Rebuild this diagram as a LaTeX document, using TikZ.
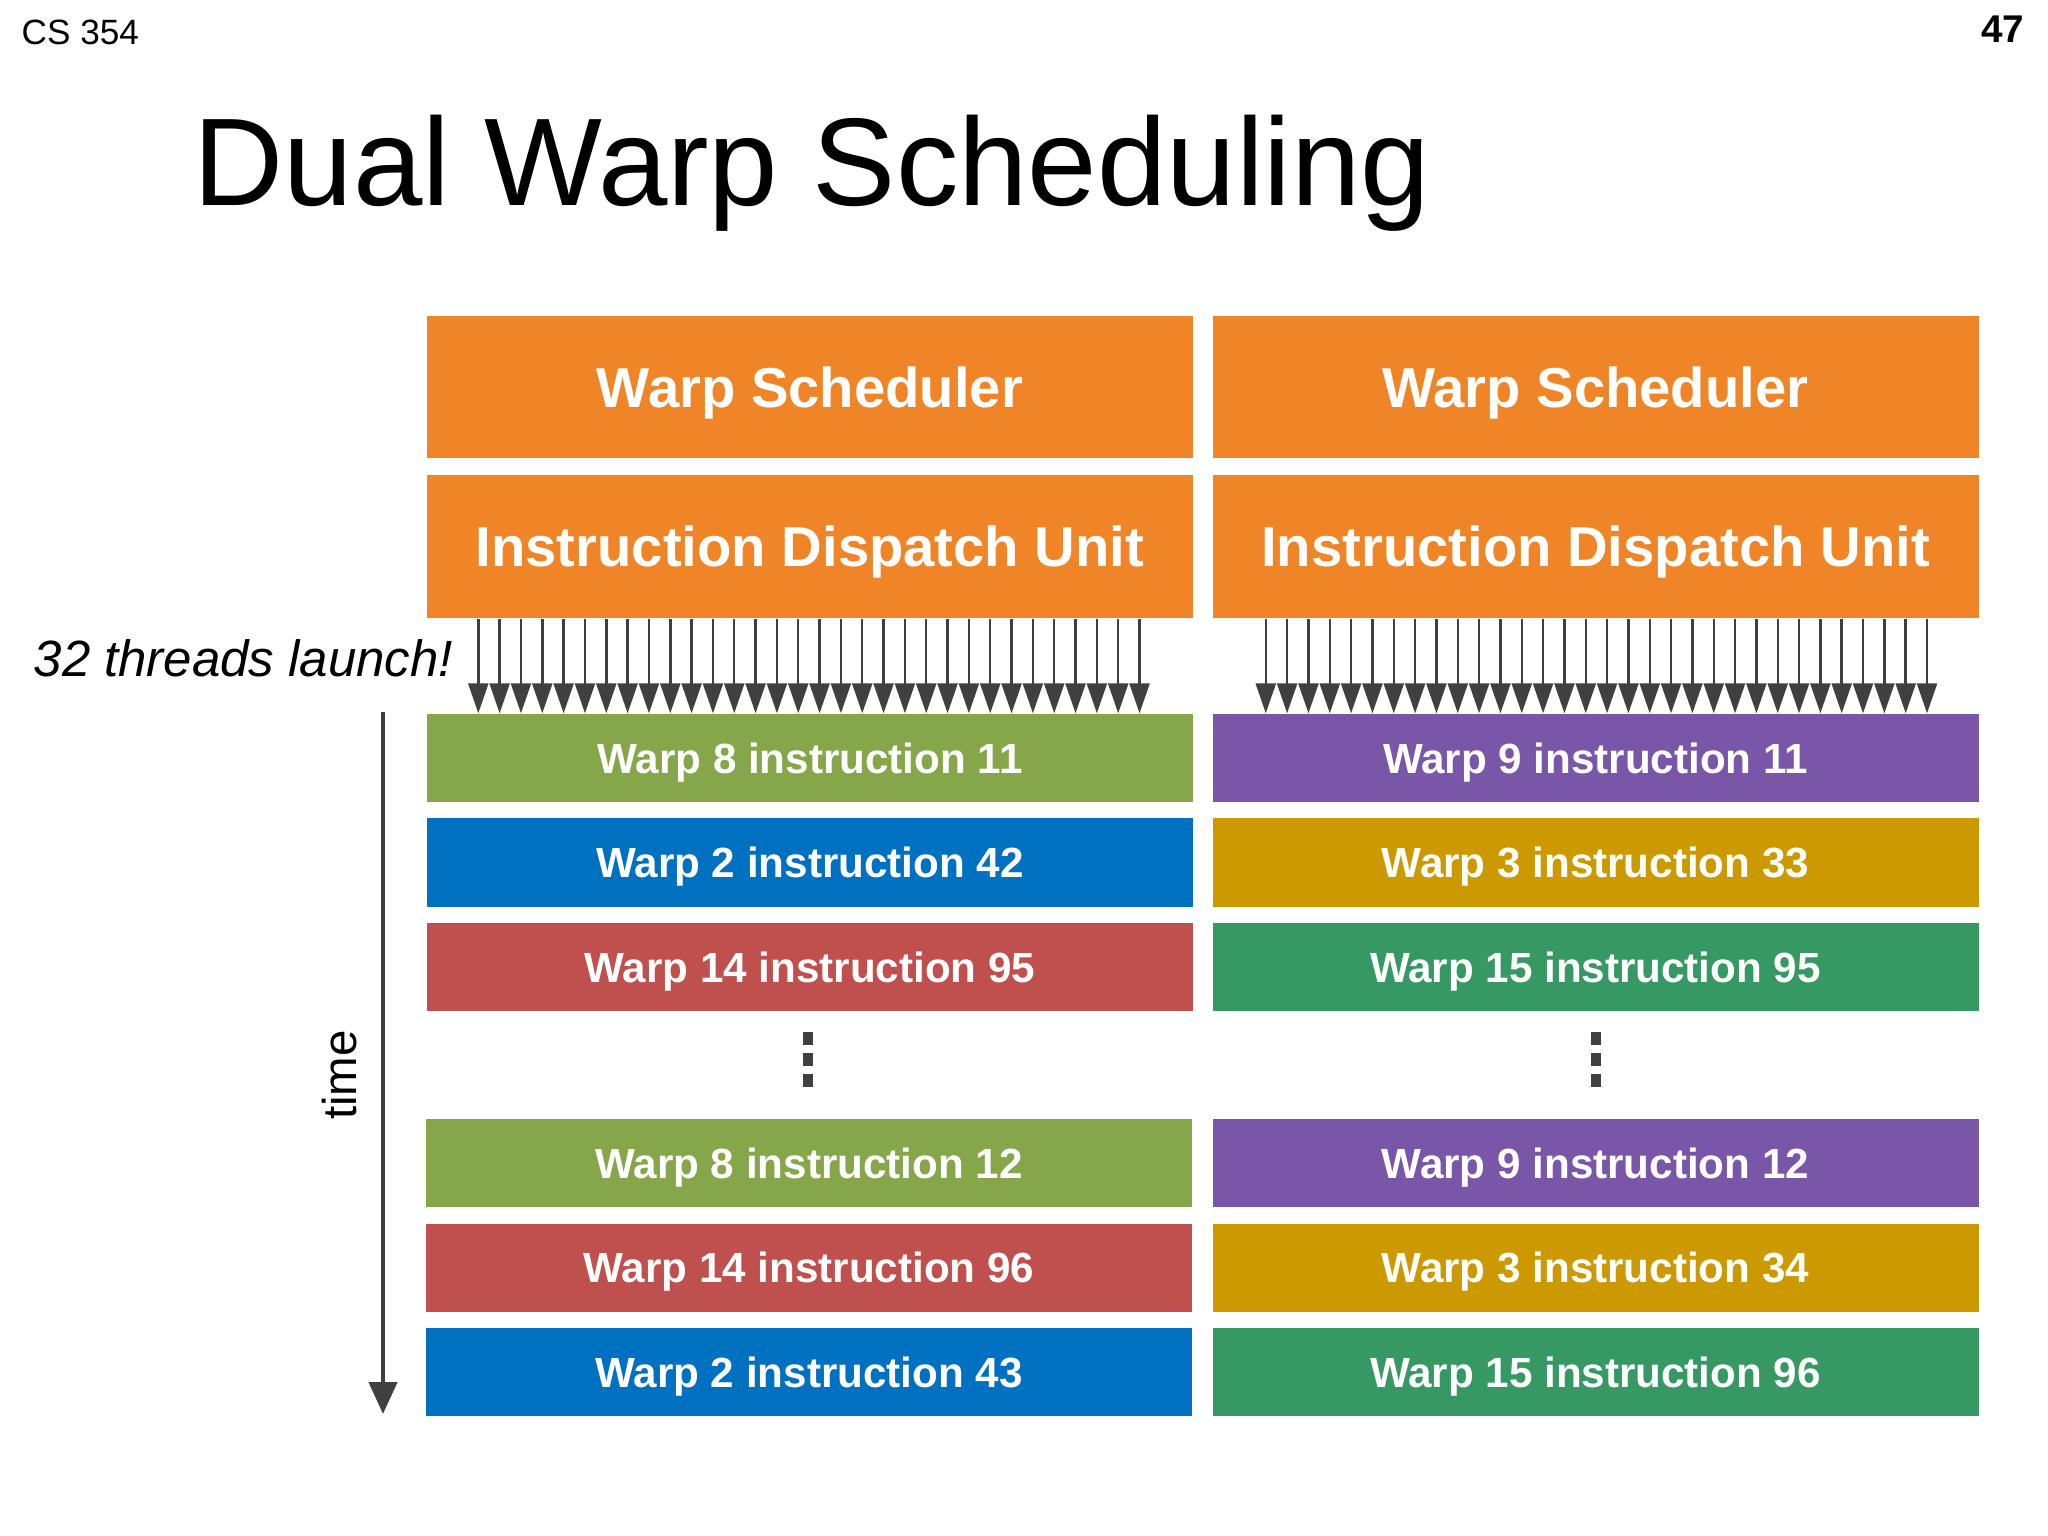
\documentclass[tikz,border=0pt]{standalone}
\usepackage{fontspec}
\setmainfont{Liberation Sans}
\usetikzlibrary{positioning,arrows.meta}
\definecolor{schedorange}{RGB}{240,133,40}
\definecolor{warpolive}{RGB}{134,166,74}
\definecolor{warpblue}{RGB}{0,112,192}
\definecolor{warpred}{RGB}{192,80,77}
\definecolor{warppurple}{RGB}{122,86,168}
\definecolor{warpgold}{RGB}{204,154,0}
\definecolor{warpteal}{RGB}{54,153,99}
\definecolor{arrowgray}{RGB}{64,64,64}
\tikzstyle{sched}=[rectangle, fill=schedorange, text=white, inner sep=0pt, text depth=0pt,
        minimum width=7.66cm, minimum height=1.42cm, font=\fontsize{16}{19}\selectfont\bfseries]
\tikzstyle{instr}=[rectangle, text=white, inner sep=0pt, text depth=0pt,
        minimum width=7.66cm, minimum height=0.88cm, font=\fontsize{12}{14}\selectfont\bfseries]
\tikzstyle{thread}=[draw=arrowgray, line width=0.7pt, -{Triangle[length=0.3cm,width=0.2cm]}]
\tikzstyle{timeline}=[draw=arrowgray, line width=1.3pt, -{Triangle[length=0.32cm,width=0.28cm]}]
\tikzstyle{dot}=[rectangle, fill=arrowgray, inner sep=0pt, minimum width=0.1cm, minimum height=0.13cm]
\tikzstyle{plain}=[inner sep=0pt]

\begin{document}
\begin{tikzpicture}
\useasboundingbox (0,0) rectangle (20.48,-15.36);
% slide header
\node[plain, anchor=base west, font=\fontsize{10}{12}\selectfont] (course) at (0.21,-0.45) {CS 354};
\node[plain, anchor=base east, font=\fontsize{11}{13}\selectfont\bfseries] (page) at (20.25,-0.43) {47};
\node[plain, anchor=base west, font=\fontsize{35.5}{40}\selectfont] (title) at (1.93,-2.06) {Dual Warp Scheduling};
% schedulers and dispatch units
\node[sched] (schL) at (8.10,-3.87) {Warp Scheduler};
\node[sched] (schR) at (15.955,-3.87) {Warp Scheduler};
\node[sched, minimum height=1.43cm] (dispL) at (8.10,-5.465) {Instruction Dispatch Unit};
\node[sched, minimum height=1.43cm] (dispR) at (15.955,-5.465) {Instruction Dispatch Unit};
% issued instructions, left scheduler
\node[instr, fill=warpolive] (wL1) at (8.10,-7.58) {Warp 8 instruction 11};
\node[instr, fill=warpblue] (wL2) at (8.10,-8.625) {Warp 2 instruction 42};
\node[instr, fill=warpred] (wL3) at (8.10,-9.67) {Warp 14 instruction 95};
\node[instr, fill=warpolive] (wL4) at (8.09,-11.63) {Warp 8 instruction 12};
\node[instr, fill=warpred] (wL5) at (8.09,-12.675) {Warp 14 instruction 96};
\node[instr, fill=warpblue] (wL6) at (8.09,-13.72) {Warp 2 instruction 43};
% issued instructions, right scheduler
\node[instr, fill=warppurple] (wR1) at (15.955,-7.58) {Warp 9 instruction 11};
\node[instr, fill=warpgold] (wR2) at (15.955,-8.625) {Warp 3 instruction 33};
\node[instr, fill=warpteal] (wR3) at (15.955,-9.67) {Warp 15 instruction 95};
\node[instr, fill=warppurple] (wR4) at (15.955,-11.63) {Warp 9 instruction 12};
\node[instr, fill=warpgold] (wR5) at (15.955,-12.675) {Warp 3 instruction 34};
\node[instr, fill=warpteal] (wR6) at (15.955,-13.72) {Warp 15 instruction 96};
% 32 threads per dispatch
\foreach \i in {0,...,31}{
  \draw[thread] ([xshift=0.52cm+\i*0.2133cm]dispL.south west) -- ([xshift=0.52cm+\i*0.2133cm]wL1.north west);
  \draw[thread] ([xshift=0.54cm+\i*0.2133cm]dispR.south west) -- ([xshift=0.54cm+\i*0.2133cm]wR1.north west);
}
\node[plain, anchor=base west, font=\fontsize{14.5}{17}\selectfont\itshape] (launch) at (0.33,-6.77) {32 threads launch!};
% vertical dots
\foreach \y in {10.38,10.59,10.80}{
  \node[dot] at (8.08,-\y) {};
  \node[dot] at (15.96,-\y) {};
}
% time axis
\coordinate (tTop) at (3.83,-7.12);
\coordinate (tBot) at (3.83,-14.14);
\draw[timeline] (tTop) -- (tBot);
\node[plain, rotate=90, font=\fontsize{13.5}{16}\selectfont] (time) at (3.40,-10.75) {time};
\end{tikzpicture}
\end{document}
